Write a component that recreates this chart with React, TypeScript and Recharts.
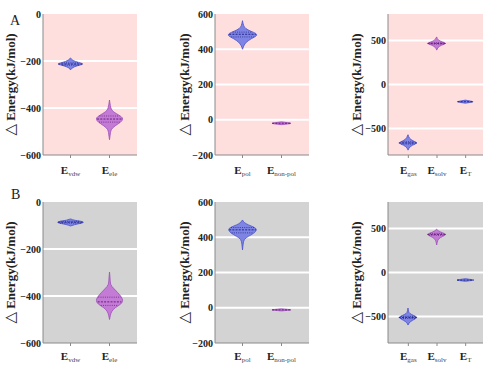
import React from 'react';
import { ComposedChart, Bar, XAxis, YAxis, CartesianGrid } from 'recharts';

type Prof = [number, number][]; // [energy kJ/mol, relative density]

// ---- Row A (pink) ----
const A_vdw: Prof = [[-238, 0], [-230, 0.08], [-221, 0.45], [-213, 1], [-206, 0.6], [-198, 0.15], [-187, 0]];
const A_ele: Prof = [[-535, 0], [-515, 0.05], [-492, 0.1], [-476, 0.4], [-460, 0.85], [-447, 1], [-437, 0.9], [-424, 0.5], [-410, 0.15], [-390, 0.06], [-366, 0]];
const A_pol: Prof = [[400, 0], [420, 0.08], [440, 0.25], [460, 0.6], [474, 0.95], [485, 1], [495, 0.8], [510, 0.35], [525, 0.12], [545, 0.04], [562, 0]];
const A_nonpol: Prof = [[-28, 0], [-23, 0.55], [-20, 0.7], [-17, 0.5], [-12, 0]];
const A_gas: Prof = [[-745, 0], [-720, 0.08], [-690, 0.4], [-663, 1], [-640, 0.5], [-610, 0.12], [-570, 0]];
const A_solv: Prof = [[390, 0], [420, 0.1], [445, 0.45], [466, 1], [482, 0.6], [505, 0.12], [540, 0]];
const A_T: Prof = [[-212, 0], [-202, 0.6], [-195, 0.85], [-188, 0.5], [-177, 0]];

// ---- Row B (grey) ----
const B_vdw: Prof = [[-102, 0], [-96, 0.3], [-90, 0.85], [-86, 1], [-82, 0.8], [-78, 0.3], [-72, 0]];
const B_ele: Prof = [[-500, 0], [-482, 0.06], [-466, 0.15], [-450, 0.4], [-435, 0.85], [-420, 1], [-405, 0.9], [-385, 0.6], [-367, 0.3], [-352, 0.06], [-320, 0.04], [-298, 0]];
const B_pol: Prof = [[328, 0], [360, 0.04], [388, 0.1], [405, 0.4], [422, 0.78], [442, 1], [456, 0.85], [470, 0.4], [484, 0.1], [498, 0]];
const B_nonpol: Prof = [[-18, 0], [-14, 0.55], [-12, 0.7], [-10, 0.5], [-6, 0]];
const B_gas: Prof = [[-596, 0], [-570, 0.1], [-545, 0.4], [-510, 1], [-490, 0.6], [-465, 0.15], [-440, 0.05], [-403, 0]];
const B_solv: Prof = [[312, 0], [350, 0.06], [385, 0.2], [410, 0.6], [432, 1], [450, 0.6], [470, 0.2], [490, 0]];
const B_T: Prof = [[-100, 0], [-92, 0.6], [-86, 0.9], [-80, 0.6], [-70, 0]];

// categories (subscripts of E)
const cats1 = ['vdw', 'ele'];
const cats2 = ['pol', 'non-pol'];
const cats3 = ['gas', 'solv', 'T'];

// medians and quartiles
const A_med1 = [-213, -447];
const A_q1 = [[-218, -208], [-460, -434]];
const A_med2 = [485, -20];
const A_q2 = [[470, 497], null];
const A_med3 = [-663, 466, -195];
const A_q3 = [[-675, -650], [458, 474], null];
const B_med1 = [-86, -425];
const B_q1 = [[-90, -82], [-440, -405]];
const B_med2 = [442, -12];
const B_q2 = [[425, 455], null];
const B_med3 = [-510, 432, -86];
const B_q3 = [[-522, -498], [422, 444], null];

// y axis ticks
const ticks1 = [-600, -400, -200, 0];
const ticks2 = [-200, 0, 200, 400, 600];
const ticks3 = [-500, 0, 500];

const BLUE = { fill: '#7d84e4', stroke: '#4b52c9', dark: '#1b1e80' };
const PURPLE = { fill: '#c47bd6', stroke: '#9d4fb7', dark: '#5c1870' };
const colors2 = [BLUE, PURPLE];
const colors3 = [BLUE, PURPLE, BLUE];

const AXIS = '#8a8a8a';
const SERIF = '"Liberation Serif", "Times New Roman", serif';

function buildRows(cats: string[], profs: Prof[], meds: number[], qs: any[], cols: any[]) {
  return cats.map((name, i) => ({
    name,
    range: [profs[i][0][0], profs[i][profs[i].length - 1][0]],
    profile: profs[i],
    median: meds[i],
    quart: qs[i],
    col: cols[i],
  }));
}

function halfAt(prof: Prof, v: number) {
  for (let i = 0; i < prof.length - 1; i++) {
    const [a, wa] = prof[i];
    const [b, wb] = prof[i + 1];
    if (v >= a && v <= b) return wa + ((v - a) / (b - a)) * (wb - wa);
  }
  return 0;
}

function smoothPath(pts: number[][], start: boolean) {
  let d = start ? `M${pts[0][0]},${pts[0][1]}` : `L${pts[0][0]},${pts[0][1]}`;
  for (let i = 1; i < pts.length - 1; i++) {
    const mx = (pts[i][0] + pts[i + 1][0]) / 2;
    const my = (pts[i][1] + pts[i + 1][1]) / 2;
    d += ` Q${pts[i][0]},${pts[i][1]} ${mx},${my}`;
  }
  const l = pts[pts.length - 1];
  d += ` L${l[0]},${l[1]}`;
  return d;
}

function Violin(props: any) {
  const { x, y, width, height, payload } = props;
  if (!payload || !payload.profile) return null;
  const prof: Prof = payload.profile;
  const lo = prof[0][0];
  const hi = prof[prof.length - 1][0];
  const top = Math.min(y, y + height);
  const h = Math.abs(height);
  const py = (v: number) => top + ((hi - v) / (hi - lo)) * h;
  const cx = x + width / 2;
  const half = width / 2;
  const right = prof.map(([v, w]) => [cx + w * half, py(v)]);
  const left = prof.slice().reverse().map(([v, w]) => [cx - w * half, py(v)]);
  const d = smoothPath(right, true) + ' ' + smoothPath(left, false) + ' Z';
  const col = payload.col;
  const line = (v: number, dash: string, sw: number, key: string) => {
    const hw = halfAt(prof, v) * half * 0.92;
    return (
      <line key={key} x1={cx - hw} x2={cx + hw} y1={py(v)} y2={py(v)} stroke={col.dark} strokeWidth={sw} strokeDasharray={dash} />
    );
  };
  return (
    <g>
      <path d={d} fill={col.fill} stroke={col.stroke} strokeWidth={0.8} />
      {payload.quart ? line(payload.quart[0], '1 1.2', 0.7, 'q1') : null}
      {payload.quart ? line(payload.quart[1], '1 1.2', 0.7, 'q3') : null}
      {line(payload.median, '2 1.2', 0.9, 'med')}
    </g>
  );
}

function XTick(props: any) {
  const { x, y, payload, off } = props;
  return (
    <text x={x} y={y + off} textAnchor="middle" fontFamily={SERIF} fill="#222">
      <tspan fontWeight="bold" fontSize={11}>E</tspan>
      <tspan fontSize={7} dy={2} fill="#444">{payload.value}</tspan>
    </text>
  );
}

function YLabel(props: any) {
  const { lx, ly } = props;
  return (
    <text x={lx} y={ly} transform={`rotate(-90 ${lx} ${ly})`} textAnchor="middle" dominantBaseline="central" fontFamily={SERIF} fontWeight="bold" fontSize={13} fill="#222">
      <tspan fontFamily='"DejaVu Sans", sans-serif' fontWeight="normal" fontSize={15}>△</tspan>
      <tspan> Energy(kJ/mol)</tspan>
    </text>
  );
}

const fmt = (v: number) => (v < 0 ? `−${-v}` : `${v}`);

function Panel(p: any) {
  const { left, top, plotW, rows, domain, ticks, grid, bg, barSize, padding, labelX, off } = p;
  const plotH = 141;
  const H = 10 + plotH + 40;
  const W = 60 + plotW + 10;
  return (
    <div style={{ position: 'absolute', left: left - 60, top: top - 10 }}>
      <ComposedChart width={W} height={H} data={rows} margin={{ top: 10, right: 10, left: 0, bottom: 0 }}>
        <CartesianGrid vertical={false} horizontalValues={grid} stroke="#ffffff" strokeWidth={2} fill={bg} fillOpacity={1} />
        <XAxis
          dataKey="name"
          type="category"
          padding={padding}
          interval={0}
          height={40}
          tickSize={3}
          tickLine={{ stroke: AXIS }}
          axisLine={{ stroke: AXIS }}
          tick={<XTick off={off} />}
        />
        <YAxis
          type="number"
          domain={domain}
          ticks={ticks}
          interval={0}
          allowDataOverflow
          width={60}
          tickSize={1}
          tickMargin={1}
          tickLine={false}
          axisLine={{ stroke: AXIS }}
          tickFormatter={fmt}
          tick={{ fontFamily: SERIF, fontWeight: 'bold', fontSize: 10, fill: '#222' }}
          label={<YLabel lx={labelX} ly={10 + plotH / 2} />}
        />
        <Bar dataKey="range" barSize={barSize} shape={Violin} isAnimationActive={false} />
      </ComposedChart>
    </div>
  );
}

const PINK = '#ffdede';
const GREY = '#d3d3d3';

export default function App() {
  const rowsA1 = buildRows(cats1, [A_vdw, A_ele], A_med1, A_q1, colors2);
  const rowsA2 = buildRows(cats2, [A_pol, A_nonpol], A_med2, A_q2, colors2);
  const rowsA3 = buildRows(cats3, [A_gas, A_solv, A_T], A_med3, A_q3, colors3);
  const rowsB1 = buildRows(cats1, [B_vdw, B_ele], B_med1, B_q1, colors2);
  const rowsB2 = buildRows(cats2, [B_pol, B_nonpol], B_med2, B_q2, colors2);
  const rowsB3 = buildRows(cats3, [B_gas, B_solv, B_T], B_med3, B_q3, colors3);
  const pad2 = { left: 8, right: 8 };
  const pad3 = { left: 6, right: 3 };
  return (
    <div style={{ position: 'absolute', left: 0, top: 0, width: 500, height: 371, background: '#fff', overflow: 'hidden' }}>
      <div style={{ position: 'absolute', left: 10, top: 13, fontFamily: SERIF, fontSize: 14, color: '#222' }}>A</div>
      <div style={{ position: 'absolute', left: 11, top: 187, fontFamily: SERIF, fontSize: 14, color: '#222' }}>B</div>
      <Panel left={43} top={14} plotW={94} rows={rowsA1} domain={[-600, 0]} ticks={ticks1} grid={[-400, -200]} bg={PINK} barSize={27} padding={pad2} labelX={27} off={14} />
      <Panel left={215} top={14} plotW={94} rows={rowsA2} domain={[-200, 600]} ticks={ticks2} grid={[0, 200, 400]} bg={PINK} barSize={29} padding={pad2} labelX={29} off={14} />
      <Panel left={388} top={14} plotW={95} rows={rowsA3} domain={[-800, 800]} ticks={ticks3} grid={[-500, 0, 500]} bg={PINK} barSize={20} padding={pad3} labelX={28} off={14} />
      <Panel left={43} top={202} plotW={94} rows={rowsB1} domain={[-600, 0]} ticks={ticks1} grid={[-400, -200]} bg={GREY} barSize={27} padding={pad2} labelX={27} off={12} />
      <Panel left={215} top={202} plotW={94} rows={rowsB2} domain={[-200, 600]} ticks={ticks2} grid={[0, 200, 400]} bg={GREY} barSize={29} padding={pad2} labelX={29} off={12} />
      <Panel left={388} top={202} plotW={95} rows={rowsB3} domain={[-800, 800]} ticks={ticks3} grid={[-500, 0, 500]} bg={GREY} barSize={20} padding={pad3} labelX={28} off={12} />
    </div>
  );
}
